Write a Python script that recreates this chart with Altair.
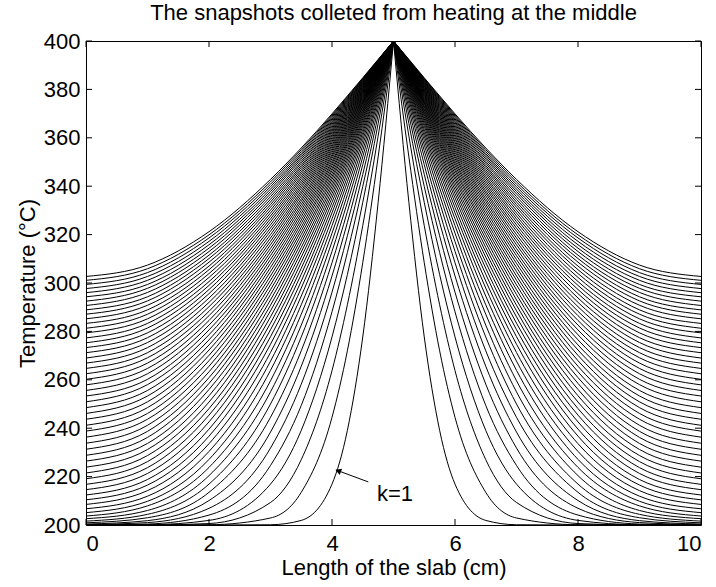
import altair as alt
import pandas as pd

# Temperatures (deg C) of the 58 snapshots (k = 1..58), read along the left half of the slab.
# The right half of the picture mirrors the left half about x = 5 cm.
x_left = [0, 1, 2, 3, 3.5, 4, 4.25, 4.5, 4.75, 5]

T_x0 = [200.0, 200.0, 200.0, 200.0, 200.0, 200.2, 200.4, 200.9, 201.6, 202.6,
        203.7, 205.1, 206.7, 208.5, 210.4, 212.4, 214.6, 216.8, 219.1, 221.5,
        223.9, 226.4, 228.8, 231.3, 233.8, 236.3, 238.8, 241.2, 243.7, 246.1,
        248.5, 250.9, 253.3, 255.6, 257.9, 260.2, 262.5, 264.7, 266.9, 269.0,
        271.2, 273.3, 275.3, 277.3, 279.4, 281.3, 283.3, 285.2, 287.1, 288.9,
        290.7, 292.5, 294.3, 296.0, 297.7, 299.4, 301.1, 302.7]
T_x1 = [200.0, 200.0, 200.0, 200.1, 200.4, 201.0, 201.8, 203.0, 204.4, 206.0,
        207.9, 209.8, 211.9, 214.2, 216.5, 218.8, 221.3, 223.7, 226.2, 228.7,
        231.2, 233.7, 236.2, 238.7, 241.2, 243.7, 246.1, 248.5, 250.9, 253.3,
        255.6, 258.0, 260.2, 262.5, 264.7, 266.9, 269.1, 271.2, 273.3, 275.4,
        277.4, 279.4, 281.4, 283.3, 285.2, 287.1, 288.9, 290.8, 292.6, 294.3,
        296.1, 297.8, 299.4, 301.1, 302.7, 304.3, 305.9, 307.4]
T_x2 = [200.0, 200.1, 200.6, 201.9, 204.1, 206.9, 210.1, 213.5, 216.9, 220.4,
        223.8, 227.1, 230.4, 233.6, 236.7, 239.6, 242.6, 245.4, 248.1, 250.8,
        253.4, 256.0, 258.5, 260.9, 263.3, 265.6, 267.9, 270.1, 272.3, 274.4,
        276.5, 278.6, 280.6, 282.6, 284.5, 286.5, 288.3, 290.2, 292.0, 293.8,
        295.6, 297.3, 299.0, 300.6, 302.3, 303.9, 305.5, 307.0, 308.6, 310.1,
        311.5, 313.0, 314.4, 315.8, 317.2, 318.6, 319.9, 321.2]
T_x3 = [200.1, 202.9, 209.3, 216.9, 224.6, 231.8, 238.4, 244.5, 250.0, 255.0,
        259.6, 263.9, 267.7, 271.3, 274.7, 277.8, 280.7, 283.4, 286.0, 288.5,
        290.8, 293.0, 295.2, 297.2, 299.2, 301.1, 302.9, 304.7, 306.4, 308.1,
        309.7, 311.3, 312.8, 314.3, 315.8, 317.2, 318.6, 320.0, 321.4, 322.7,
        324.0, 325.3, 326.5, 327.7, 328.9, 330.1, 331.3, 332.4, 333.5, 334.6,
        335.7, 336.8, 337.8, 338.8, 339.8, 340.8, 341.8, 342.8]
T_x3_5 = [201.9, 213.5, 227.0, 239.1, 249.4, 258.2, 265.6, 272.0, 277.7, 282.6,
          287.1, 291.0, 294.6, 297.9, 300.8, 303.6, 306.1, 308.5, 310.7, 312.8,
          314.7, 316.6, 318.3, 320.0, 321.6, 323.1, 324.6, 326.0, 327.4, 328.7,
          330.0, 331.3, 332.5, 333.7, 334.8, 336.0, 337.1, 338.1, 339.2, 340.2,
          341.2, 342.2, 343.2, 344.1, 345.1, 346.0, 346.9, 347.8, 348.6, 349.5,
          350.3, 351.2, 352.0, 352.8, 353.5, 354.3, 355.1, 355.8]
T_x4 = [216.9, 244.5, 263.8, 277.7, 288.1, 296.2, 302.9, 308.4, 313.1, 317.1,
        320.6, 323.7, 326.5, 329.0, 331.2, 333.3, 335.2, 336.9, 338.5, 340.0,
        341.4, 342.8, 344.0, 345.2, 346.4, 347.4, 348.5, 349.5, 350.4, 351.4,
        352.3, 353.1, 354.0, 354.8, 355.6, 356.4, 357.1, 357.9, 358.6, 359.3,
        360.0, 360.7, 361.3, 362.0, 362.6, 363.2, 363.8, 364.4, 365.0, 365.6,
        366.2, 366.7, 367.3, 367.8, 368.4, 368.9, 369.4, 369.9]
T_x4_25 = [239.1, 272.0, 291.0, 303.5, 312.6, 319.5, 325.0, 329.5, 333.3, 336.5,
           339.3, 341.8, 343.9, 345.9, 347.7, 349.3, 350.8, 352.1, 353.4, 354.5,
           355.6, 356.7, 357.6, 358.5, 359.4, 360.2, 361.0, 361.8, 362.5, 363.2,
           363.9, 364.6, 365.2, 365.8, 366.4, 367.0, 367.6, 368.2, 368.7, 369.2,
           369.8, 370.3, 370.8, 371.3, 371.7, 372.2, 372.7, 373.1, 373.6, 374.0,
           374.5, 374.9, 375.3, 375.7, 376.1, 376.5, 376.9, 377.3]
T_x4_5 = [277.7, 308.4, 323.7, 333.3, 339.9, 344.9, 348.9, 352.1, 354.7, 357.0,
          359.0, 360.7, 362.2, 363.5, 364.8, 365.9, 366.9, 367.8, 368.7, 369.5,
          370.2, 370.9, 371.5, 372.2, 372.8, 373.3, 373.9, 374.4, 374.9, 375.3,
          375.8, 376.2, 376.7, 377.1, 377.5, 377.9, 378.3, 378.7, 379.0, 379.4,
          379.7, 380.1, 380.4, 380.7, 381.1, 381.4, 381.7, 382.0, 382.3, 382.6,
          382.9, 383.2, 383.4, 383.7, 384.0, 384.3, 384.5, 384.8]
T_x4_75 = [333.3, 352.1, 360.7, 365.9, 369.4, 372.0, 374.1, 375.8, 377.1, 378.3,
           379.3, 380.2, 381.0, 381.6, 382.3, 382.8, 383.3, 383.8, 384.2, 384.7,
           385.0, 385.4, 385.7, 386.0, 386.3, 386.6, 386.9, 387.1, 387.4, 387.6,
           387.9, 388.1, 388.3, 388.5, 388.7, 388.9, 389.1, 389.3, 389.5, 389.7,
           389.8, 390.0, 390.2, 390.3, 390.5, 390.7, 390.8, 391.0, 391.1, 391.3,
           391.4, 391.6, 391.7, 391.8, 392.0, 392.1, 392.2, 392.4]
T_peak = 400.0

x_ticks = [0, 2, 4, 6, 8, 10]
y_ticks = [200, 220, 240, 260, 280, 300, 320, 340, 360, 380, 400]

# annotation "k=1" and its arrow (data coordinates)
label_text = ["k=1"]
label_x = [4.73]
label_T = [212.8]
arrow_tail = (4.59, 217.8)
arrow_head = (4.07, 222.7)

columns = [T_x0, T_x1, T_x2, T_x3, T_x3_5, T_x4, T_x4_25, T_x4_5, T_x4_75]
n_snap = len(T_x0)
rows = []
for k in range(n_snap):
    for side in ("L", "R"):
        for j, xv in enumerate(x_left):
            T = T_peak if j == len(columns) else columns[j][k]
            x = xv if side == "L" else 10 - xv
            rows.append({"key": f"{k + 1}{side}", "x": x, "T": T, "o": j})
df = pd.DataFrame(rows)

FONT = "Liberation Sans"
FS = 22

xs_ = alt.Scale(domain=[0, 10], nice=False, zero=False)
ys_ = alt.Scale(domain=[200, 400], nice=False, zero=False)

lines = alt.Chart(df).mark_line(color="black", strokeWidth=1, interpolate="monotone", clip=True).encode(
    x=alt.X("x:Q", scale=xs_, axis=alt.Axis(values=x_ticks, format="d", title="Length of the slab (cm)",
                                            grid=False, domain=False, ticks=False, labelPadding=8, titlePadding=3)),
    y=alt.Y("T:Q", scale=ys_, axis=alt.Axis(values=y_ticks, format="d", title="Temperature (°C)",
                                            grid=False, domain=False, ticks=False, labelPadding=6, titlePadding=4)),
    detail="key:N",
    order="o:Q",
)

xt = pd.DataFrame({"v": x_ticks})
yt = pd.DataFrame({"v": y_ticks})
tb = alt.Chart(xt).mark_rule(color="black").encode(x=alt.X("v:Q", scale=xs_), y=alt.value(484), y2=alt.value(478))
tt = alt.Chart(xt).mark_rule(color="black").encode(x=alt.X("v:Q", scale=xs_), y=alt.value(0), y2=alt.value(6))
tl = alt.Chart(yt).mark_rule(color="black").encode(y=alt.Y("v:Q", scale=ys_), x=alt.value(0), x2=alt.value(6))
tr = alt.Chart(yt).mark_rule(color="black").encode(y=alt.Y("v:Q", scale=ys_), x=alt.value(615), x2=alt.value(609))

ann = pd.DataFrame({"t": label_text, "x": label_x, "T": label_T})
txt = alt.Chart(ann).mark_text(font=FONT, fontSize=FS, align="left", baseline="middle", color="black").encode(
    x=alt.X("x:Q", scale=xs_), y=alt.Y("T:Q", scale=ys_), text="t:N")

arr = pd.DataFrame({"x": [arrow_tail[0]], "T": [arrow_tail[1]], "x2": [arrow_head[0]], "T2": [arrow_head[1]]})
arrow_line = alt.Chart(arr).mark_rule(color="black", strokeWidth=1).encode(
    x=alt.X("x:Q", scale=xs_), y=alt.Y("T:Q", scale=ys_), x2="x2:Q", y2="T2:Q")
head = pd.DataFrame({"x": [arrow_head[0] + 0.045], "T": [arrow_head[1] - 0.45]})
arrow_head_mark = alt.Chart(head).mark_point(shape="triangle", filled=True, color="black", size=45, angle=291, opacity=1).encode(
    x=alt.X("x:Q", scale=xs_), y=alt.Y("T:Q", scale=ys_))

chart = alt.layer(lines, tb, tt, tl, tr, arrow_line, arrow_head_mark, txt).properties(
    width=615, height=484,
    title=alt.TitleParams("The snapshots colleted from heating at the middle", font=FONT, fontSize=FS,
                          fontWeight="normal", offset=5, color="black"),
    autosize=alt.AutoSizeParams(type="none"),
    padding={"left": 86, "top": 41, "right": 15, "bottom": 62},
).configure_view(stroke="black", strokeWidth=1).configure_axis(
    labelFont=FONT, labelFontSize=FS, titleFont=FONT, titleFontSize=FS, titleFontWeight="normal",
    labelColor="black", titleColor="black"
)
chart.save("out.html", embed_options={"renderer": "svg", "actions": False})
